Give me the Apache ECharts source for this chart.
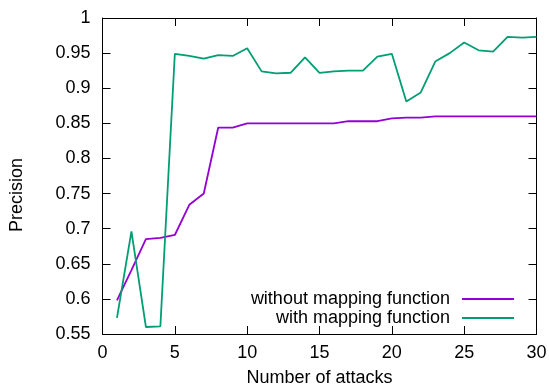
<!DOCTYPE html>
<html>
<head>
<meta charset="utf-8">
<script src="https://cdn.jsdelivr.net/npm/echarts@6/dist/echarts.min.js"></script>
<style>html,body{margin:0;padding:0;background:#fff}#c{width:549px;height:390px}</style>
</head>
<body>
<div id="c"></div>
<script>
const attacks = [1,2,3,4,5,6,7,8,9,10,11,12,13,14,15,16,17,18,19,20,21,22,23,24,25,26,27,28,29,30];
const withoutMapping = [0.598,0.641,0.685,0.687,0.691,0.734,0.750,0.844,0.844,0.850,0.850,0.850,0.850,0.850,0.850,0.850,0.853,0.853,0.853,0.857,0.858,0.858,0.860,0.860,0.860,0.860,0.860,0.860,0.860,0.860];
const withMapping = [0.573,0.696,0.560,0.561,0.949,0.946,0.942,0.947,0.946,0.957,0.924,0.921,0.922,0.944,0.922,0.924,0.925,0.925,0.945,0.949,0.881,0.894,0.938,0.950,0.965,0.954,0.952,0.973,0.972,0.973];
const seriesNames = ['without mapping function', 'with mapping function'];
const seriesColors = ['#9400d3', '#009e73'];

const FONT = "'Liberation Sans', Arial, sans-serif";
const chart = echarts.init(document.getElementById('c'), null, {renderer: 'canvas'});
const pair = (ys) => attacks.map((x, i) => [x, ys[i]]);
const axisLine = {show: true, onZero: false, lineStyle: {color: '#000', width: 1}};
const tick = {show: true, inside: true, length: 8, lineStyle: {color: '#000', width: 1}};
const legendCommon = {
  orient: 'horizontal', align: 'right', right: 35, padding: 0,
  icon: 'path://M0,0L52,0L52,2L0,2Z',
  itemWidth: 52, itemHeight: 2,
  textStyle: {fontFamily: FONT, fontSize: 18, color: '#000', padding: [0, 7, 0, 0]}
};
chart.setOption({
  animation: false,
  backgroundColor: '#fff',
  grid: {left: 102.5, right: 12.5, top: 18, bottom: 56, containLabel: false, outerBoundsMode: 'none'},
  legend: [
    Object.assign({}, legendCommon, {top: 290, data: [seriesNames[0]]}),
    Object.assign({}, legendCommon, {top: 309, data: [seriesNames[1]]})
  ],
  xAxis: [
    {type: 'value', min: 0, max: 30, interval: 5, position: 'bottom',
     name: 'Number of attacks', nameLocation: 'middle', nameGap: 35,
     nameTextStyle: {fontFamily: FONT, fontSize: 18, color: '#000'},
     axisLine: axisLine, axisTick: tick, splitLine: {show: false},
     axisLabel: {fontFamily: FONT, fontSize: 18, color: '#000', margin: 10}},
    {type: 'value', min: 0, max: 30, interval: 5, position: 'top',
     axisLine: axisLine, axisTick: tick, splitLine: {show: false}, axisLabel: {show: false}}
  ],
  yAxis: [
    {type: 'value', min: 0.55, max: 1, interval: 0.05, position: 'left',
     name: 'Precision', nameLocation: 'middle', nameGap: 76,
     nameTextStyle: {fontFamily: FONT, fontSize: 18, color: '#000', padding: [0, 38, 0, 0]},
     axisLine: axisLine, axisTick: tick, splitLine: {show: false},
     axisLabel: {fontFamily: FONT, fontSize: 18, color: '#000', margin: 12}},
    {type: 'value', min: 0.55, max: 1, interval: 0.05, position: 'right',
     axisLine: axisLine, axisTick: tick, splitLine: {show: false}, axisLabel: {show: false}}
  ],
  series: [
    {name: seriesNames[0], type: 'line', data: pair(withoutMapping), symbol: 'none',
     xAxisIndex: 0, yAxisIndex: 0, color: seriesColors[0], lineStyle: {width: 1.8, color: seriesColors[0]}},
    {name: seriesNames[1], type: 'line', data: pair(withMapping), symbol: 'none',
     xAxisIndex: 0, yAxisIndex: 0, color: seriesColors[1], lineStyle: {width: 1.8, color: seriesColors[1]}}
  ]
});
</script>
</body>
</html>
